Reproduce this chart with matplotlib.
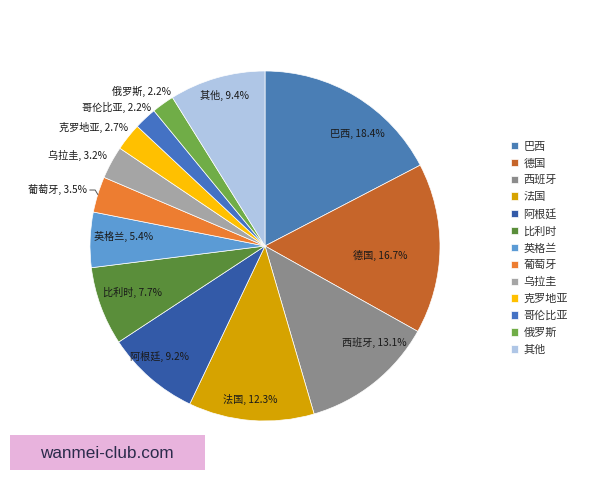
import numpy as np
import matplotlib
matplotlib.use("Agg")
import matplotlib.pyplot as plt
from matplotlib.patches import Rectangle

plt.rcParams['font.family'] = ['Noto Sans CJK SC', 'DejaVu Sans']

# data
teams = ["巴西", "德国", "西班牙", "法国", "阿根廷", "比利时", "英格兰",
         "葡萄牙", "乌拉圭", "克罗地亚", "哥伦比亚", "俄罗斯", "其他"]
shares = [18.4, 16.7, 13.1, 12.3, 9.2, 7.7, 5.4, 3.5, 3.2, 2.7, 2.2, 2.2, 9.4]

colors = ["#4A7EB5", "#C6652A", "#8C8C8C", "#D6A300", "#335AA8", "#5A8E3A",
          "#5B9BD5", "#ED7D31", "#A5A5A5", "#FFC000", "#4472C4", "#70AD47",
          "#AFC6E6"]

# label placement: radius (in pie radii) and angle shift from wedge middle
lab_r = [0.83, 0.66, 0.835, 0.88, 0.87, 0.80, 0.81, 1.23, 1.19, 1.19, 1.16, 1.13, 0.89]
lab_da = [-8, -4, 10, -1, -2.6, -1, -2, 2, 2.8, 4, 4, 3, -1]

fig = plt.figure(figsize=(6, 4.8), dpi=100)
ax = fig.add_axes([0, 0, 1, 1])

wedges, _ = ax.pie(shares, colors=colors, startangle=90, counterclock=False,
                   wedgeprops=dict(edgecolor="white", linewidth=0.5))

# pixel layout: centre (265, 246 from top), radius 175 px
ax.set_xlim(-265 / 175, (600 - 265) / 175)
ax.set_ylim(-(480 - 246) / 175, 246 / 175)
ax.set_aspect("auto")
ax.axis("off")

for w, name, v, r, da in zip(wedges, teams, shares, lab_r, lab_da):
    mid = np.deg2rad((w.theta1 + w.theta2) / 2 + da)
    x, y = r * np.cos(mid), r * np.sin(mid)
    ax.text(x, y, f"{name}, {v}%", ha="center", va="center",
            fontsize=7.3, color="#1A1A1A")

# leader line for 葡萄牙
w = wedges[7]
m = np.deg2rad((w.theta1 + w.theta2) / 2)
px, py = np.cos(m), np.sin(m)
ax.plot([px - 0.045, px - 0.015, px], [py + 0.025, py + 0.025, py],
        color="#555555", lw=0.7)

leg = fig.legend(wedges, teams, loc="upper left",
                 bbox_to_anchor=(505 / 600, 1 - 136 / 480),
                 frameon=False, fontsize=8, handlelength=0.65,
                 handleheight=0.65, handletextpad=0.5, labelspacing=0.6,
                 borderpad=0)
for t in leg.get_texts():
    t.set_color("#333333")

# watermark box
fig.patches.append(Rectangle((10 / 600, 1 - 470 / 480), 195 / 600, 35 / 480,
                             transform=fig.transFigure, facecolor="#E8B3DD",
                             edgecolor="none"))
fig.text(107 / 600, 1 - 453 / 480, "wanmei-club.com", ha="center",
         va="center", fontsize=12.3, color="#2B2B4B", family="Liberation Sans")

fig.savefig("out.png", dpi=100)
